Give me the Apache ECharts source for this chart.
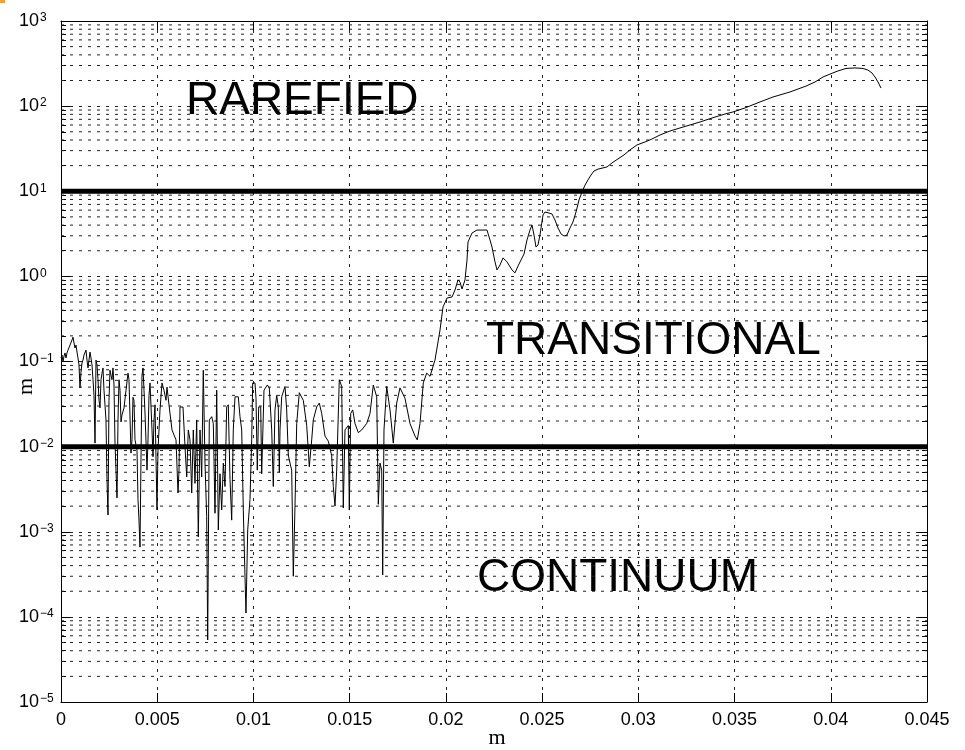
<!DOCTYPE html>
<html><head><meta charset="utf-8">
<script src="https://cdn.jsdelivr.net/npm/echarts@6/dist/echarts.min.js"></script>
<style>html,body{margin:0;padding:0;background:#fff}#c{width:965px;height:750px}</style>
</head><body><div id="c"></div>
<script>
const xTickLabels = ['0','0.005','0.01','0.015','0.02','0.025','0.03','0.035','0.04','0.045'];
const yTickExponents = [-5,-4,-3,-2,-1,0,1,2,3];
const minorMultipliers = [2,3,4,5,6,7,8,9];
const upperBoundary = 10;
const lowerBoundary = 0.01;
const regionNames = ['RAREFIED','TRANSITIONAL','CONTINUUM'];
const axisNameX = 'm';
const axisNameY = 'm';

const curvePoints = [
[0,0.110],[0.000052,0.119],[0.000104,0.0986],[0.000156,0.116],[0.000208,0.126],[0.000260,0.110],
[0.000312,0.126],[0.000364,0.136],[0.000416,0.129],[0.000468,0.156],[0.000572,0.179],[0.000624,0.193],
[0.000676,0.165],[0.000727,0.144],[0.000779,0.156],[0.000831,0.129],[0.000883,0.110],[0.000935,0.091],
[0.000987,0.049],[0.001039,0.075],[0.001091,0.096],[0.001143,0.104],[0.001195,0.119],[0.001299,0.136],
[0.001351,0.104],[0.001403,0.084],[0.001455,0.104],[0.001507,0.129],[0.001559,0.110],[0.001611,0.091],
[0.001663,0.061],[0.001715,0.040],[0.001767,0.011],[0.001819,0.104],[0.001871,0.091],[0.001923,0.061],
[0.001975,0.035],[0.002027,0.0285],[0.002079,0.061],[0.002131,0.073],[0.002182,0.084],[0.002234,0.046],
[0.002338,0.0206],[0.002390,0.0041],[0.002442,0.00157],[0.002494,0.035],[0.002546,0.079],[0.002598,0.069],
[0.002650,0.061],[0.002702,0.084],[0.002754,0.053],[0.002806,0.011],[0.002858,0.0053],[0.002910,0.0025],
[0.002962,0.0206],[0.003014,0.061],[0.003066,0.046],[0.003118,0.0195],[0.003170,0.0236],[0.003274,0.0285],
[0.003378,0.046],[0.003482,0.073],[0.003533,0.061],[0.003637,0.0084],[0.003689,0.012],[0.003741,0.038],
[0.003793,0.035],[0.003845,0.012],[0.003949,0.0091],[0.004001,0.0024],[0.004053,0.00137],[0.004105,0.00066],
[0.004157,0.007],[0.004209,0.069],[0.004261,0.084],[0.004313,0.046],[0.004365,0.0248],[0.004469,0.0053],
[0.004521,0.012],[0.004573,0.040],[0.004625,0.056],[0.004729,0.0157],[0.004781,0.0076],[0.004833,0.0206],
[0.004885,0.031],[0.004988,0.0018],[0.005040,0.0091],[0.005144,0.027],[0.005248,0.056],[0.005352,0.046],
[0.005456,0.035],[0.005508,0.050],[0.005612,0.031],[0.005768,0.0157],[0.005976,0.012],[0.006080,0.00285],
[0.006132,0.0053],[0.006184,0.0292],[0.006339,0.0292],
[0.006443,0.0101],[0.006532,0.0044],[0.006615,0.0157],[0.006703,0.012],[0.006792,0.00285],[0.006875,0.0157],
[0.006963,0.0037],[0.007051,0.0206],[0.007135,0.00087],[0.007223,0.0157],[0.007311,0.0044],[0.007394,0.079],
[0.007483,0.0064],[0.007571,0.0015],[0.007623,0.0000535],[0.007706,0.0206],[0.007831,0.0225],[0.007914,0.0187],
[0.008002,0.00165],[0.008091,0.046],[0.008174,0.00105],[0.008262,0.0048],[0.008350,0.0018],[0.008434,0.0064],
[0.008522,0.0034],[0.008610,0.0293],[0.008693,0.031],[0.008782,0.0041],[0.008870,0.00137],[0.008953,0.0157],
[0.009042,0.0385],[0.009213,0.0385],[0.009301,0.0225],[0.009390,0.0157],[0.009473,0.0018],[0.009561,0.0003],
[0.009613,0.000111],[0.009702,0.00105],[0.009821,0.0024],[0.009909,0.012],[0.009961,0.056],[0.010081,0.056],
[0.010133,0.037],[0.010200,0.0053],[0.010273,0.0293],[0.010377,0.0293],[0.010429,0.0048],[0.010548,0.046],
[0.010720,0.053],[0.010824,0.049],[0.010949,0.0157],[0.011032,0.0034],[0.011120,0.027],[0.011208,0.040],
[0.011292,0.0293],[0.011344,0.005],[0.011380,0.0157],[0.011468,0.0385],[0.011640,0.051],[0.011728,0.027],
[0.011811,0.008],[0.011900,0.0064],[0.011988,0.0053],[0.012071,0.0003],[0.012159,0.002],[0.012248,0.0187],
[0.012383,0.043],[0.012591,0.035],[0.012767,0.0177],[0.012851,0.0091],[0.012902,0.0058],[0.013027,0.012],
[0.013110,0.0206],[0.013287,0.0293],[0.013422,0.0325],[0.013547,0.0245],[0.013718,0.0133],[0.013890,0.0116],
[0.014066,0.0078],[0.014150,0.0034],[0.014238,0.002],[0.014326,0.0053],[0.014461,0.061],[0.014586,0.051],
[0.014669,0.0019],[0.014757,0.0157],[0.014929,0.0177],[0.014981,0.0018],[0.015054,0.0245],[0.015158,0.027],
[0.015277,0.0187],[0.015449,0.0146],[0.015625,0.0157],[0.015885,0.0187],[0.016057,0.0245],[0.016228,0.053],
[0.016405,0.0385],[0.016488,0.0021],[0.016576,0.0064],[0.016664,0.0053],[0.016716,0.00031],[0.016784,0.0157],
[0.016924,0.051],[0.017096,0.027],[0.017267,0.011],[0.017444,0.0325],[0.017615,0.049],[0.017875,0.037],
[0.018135,0.0187],[0.018395,0.0133],[0.018514,0.012],[0.018655,0.0187],[0.018826,0.056],[0.019003,0.073],
[0.019174,0.067],[0.019434,0.104],[0.019694,0.234],[0.019850,0.437],[0.020058,0.557],[0.020318,0.573],
[0.020473,0.692],[0.020629,0.906],[0.020733,0.859],[0.020837,0.711],[0.020993,0.906],[0.021097,1.556],
[0.021149,2.54],[0.021357,3.23],[0.021617,3.50],[0.021928,3.50],[0.022136,3.50],[0.022292,2.68],
[0.022396,2.21],[0.022552,1.48],[0.022656,1.19],[0.022812,1.36],[0.022968,1.65],[0.023176,1.48],
[0.023435,1.19],[0.023591,1.10],[0.023747,1.32],[0.023903,1.556],[0.024059,1.83],[0.024215,2.68],
[0.024371,3.50],[0.024475,4.01],[0.024579,3.06],[0.024682,2.21],[0.024786,2.34],[0.024890,3.06],
[0.025046,5.26],[0.025150,5.70],[0.025358,5.55],[0.025514,5.40],[0.025670,4.59],[0.025826,3.70],
[0.025982,3.15],[0.026137,2.98],[0.026293,3.06],[0.026449,3.70],[0.026605,4.36],[0.026761,5.70],
[0.026917,7.89],[0.027073,9.8],[0.027229,11.8],[0.027385,13.6],[0.027540,15.5],[0.027696,17.3],
[0.027904,18.2],[0.028164,18.8],[0.028372,19.3],[0.028632,21.5],[0.028943,24.0],[0.029255,26.7],
[0.029567,30.6],[0.029931,35.0],[0.030346,37.9],[0.030710,41.1],[0.031126,45.8],[0.031645,51.0],
[0.032165,55.4],[0.032685,60.1],[0.033204,65.1],[0.033828,72.5],[0.034503,80.8],[0.034919,85.4],
[0.035543,95.2],[0.036322,111.9],[0.036998,128],[0.037881,146.6],[0.038712,172],[0.039180,192],
[0.039596,220],[0.039960,238],[0.040375,259],[0.040791,277],[0.041259,281],[0.041674,277],
[0.041934,265],[0.042142,245],[0.042298,220],[0.042454,192],[0.042610,163]
];

const minorGridValues = [];
yTickExponents.slice(0, -1).forEach(function (e) {
  minorMultipliers.forEach(function (m) { minorGridValues.push(m * Math.pow(10, e)); });
});

const chart = echarts.init(document.getElementById('c'), null, {renderer: 'canvas'});
const FONT = 'Liberation Sans';
const dotted = {type: [3, 6], color: '#222', width: 1};
const xMin = 0, xMax = 0.045, xStep = 0.005;
const yMin = Math.pow(10, yTickExponents[0]);
const yMax = Math.pow(10, yTickExponents[yTickExponents.length - 1]);

function yLabel(v) {
  const e = Math.round(Math.log10(v));
  if (yTickExponents.indexOf(e) < 0) return '';
  return '{b|10}{s|' + (e < 0 ? '\u2212' + (-e) : String(e)) + '}';
}
function xLabel(v) {
  const i = Math.round(v / xStep);
  return xTickLabels[i] !== undefined ? xTickLabels[i] : '';
}

const series = minorGridValues.map(function (v) {
  return {
    type: 'line', xAxisIndex: 0, yAxisIndex: 0, data: [[xMin, v], [xMax, v]],
    showSymbol: false, symbol: 'none', lineStyle: dotted, silent: true, z: 1
  };
});
series.push({
  type: 'line', xAxisIndex: 0, yAxisIndex: 0, data: curvePoints, showSymbol: false, symbol: 'none',
  lineStyle: {color: '#000', width: 1}, silent: true, z: 3
});
series.push({
  type: 'line', xAxisIndex: 0, yAxisIndex: 0, data: [[xMin, upperBoundary], [xMax, upperBoundary]],
  showSymbol: false, symbol: 'none', lineStyle: {color: '#000', width: 5}, silent: true, z: 4
});
series.push({
  type: 'line', xAxisIndex: 0, yAxisIndex: 0, data: [[xMin, lowerBoundary], [xMax, lowerBoundary]],
  showSymbol: false, symbol: 'none', lineStyle: {color: '#000', width: 5}, silent: true, z: 4
});

const minorTickStyle = {show: true, splitNumber: 9, length: 5, lineStyle: {color: '#000', width: 1}};

const option = {
  animation: false,
  backgroundColor: '#fff',
  grid: {left: 61, right: 38, top: 21, bottom: 48, containLabel: false, outerBoundsMode: 'none'},
  xAxis: [{
    type: 'value', min: xMin, max: xMax, interval: xStep, position: 'bottom',
    name: axisNameX, nameLocation: 'middle', nameGap: 25, nameMoveOverlap: false,
    nameTextStyle: {fontFamily: 'Liberation Serif', fontSize: 22, color: '#000', padding: [0, 0, 0, 6]},
    axisLine: {show: true, onZero: false, lineStyle: {color: '#000', width: 1}},
    axisTick: {show: true, inside: true, length: 9, lineStyle: {color: '#000'}},
    axisLabel: {show: true, formatter: xLabel, fontFamily: FONT, fontSize: 18, color: '#000', margin: 9},
    splitLine: {show: true, lineStyle: dotted}
  }, {
    type: 'value', min: xMin, max: xMax, interval: xStep, position: 'top',
    axisLine: {show: true, onZero: false, lineStyle: {color: '#000', width: 1}},
    axisTick: {show: true, inside: true, length: 9, lineStyle: {color: '#000'}},
    axisLabel: {show: false}, splitLine: {show: false}
  }],
  yAxis: [{
    type: 'log', logBase: 10, min: yMin, max: yMax, splitNumber: 8, position: 'left',
    name: axisNameY, nameLocation: 'middle', nameGap: 24, nameRotate: 90, nameMoveOverlap: false,
    nameTextStyle: {fontFamily: 'Liberation Serif', fontSize: 22, color: '#000', padding: [0, 50, 0, 0]},
    axisLine: {show: true, onZero: false, lineStyle: {color: '#000', width: 1}},
    axisTick: {show: true, inside: true, length: 9, lineStyle: {color: '#000'}},
    minorTick: minorTickStyle,
    axisLabel: {
      show: true, formatter: yLabel, align: 'left', margin: 42,
      rich: {
        b: {fontFamily: FONT, fontSize: 18, color: '#000'},
        s: {fontFamily: FONT, fontSize: 12, color: '#000', verticalAlign: 'top', padding: [0, 0, 0, 1]}
      }
    },
    splitLine: {show: true, lineStyle: dotted}
  }, {
    type: 'log', logBase: 10, min: yMin, max: yMax, splitNumber: 8, position: 'right',
    axisLine: {show: true, onZero: false, lineStyle: {color: '#000', width: 1}},
    axisTick: {show: true, inside: true, length: 9, lineStyle: {color: '#000'}},
    minorTick: minorTickStyle,
    axisLabel: {show: false}, splitLine: {show: false}
  }],
  graphic: [
    {type: 'rect', shape: {x: 0, y: 0, width: 5, height: 3}, style: {fill: '#f0a040'}},
    {type: 'text', x: 186, y: 101, style: {text: regionNames[0], fontFamily: FONT, fontSize: 46, fill: '#000', verticalAlign: 'middle', align: 'left'}},
    {type: 'text', x: 486, y: 341, style: {text: regionNames[1], fontFamily: FONT, fontSize: 46, fill: '#000', verticalAlign: 'middle', align: 'left'}},
    {type: 'text', x: 477, y: 578, style: {text: regionNames[2], fontFamily: FONT, fontSize: 46, fill: '#000', verticalAlign: 'middle', align: 'left'}}
  ],
  series: series
};
chart.setOption(option);
</script>
</body></html>
